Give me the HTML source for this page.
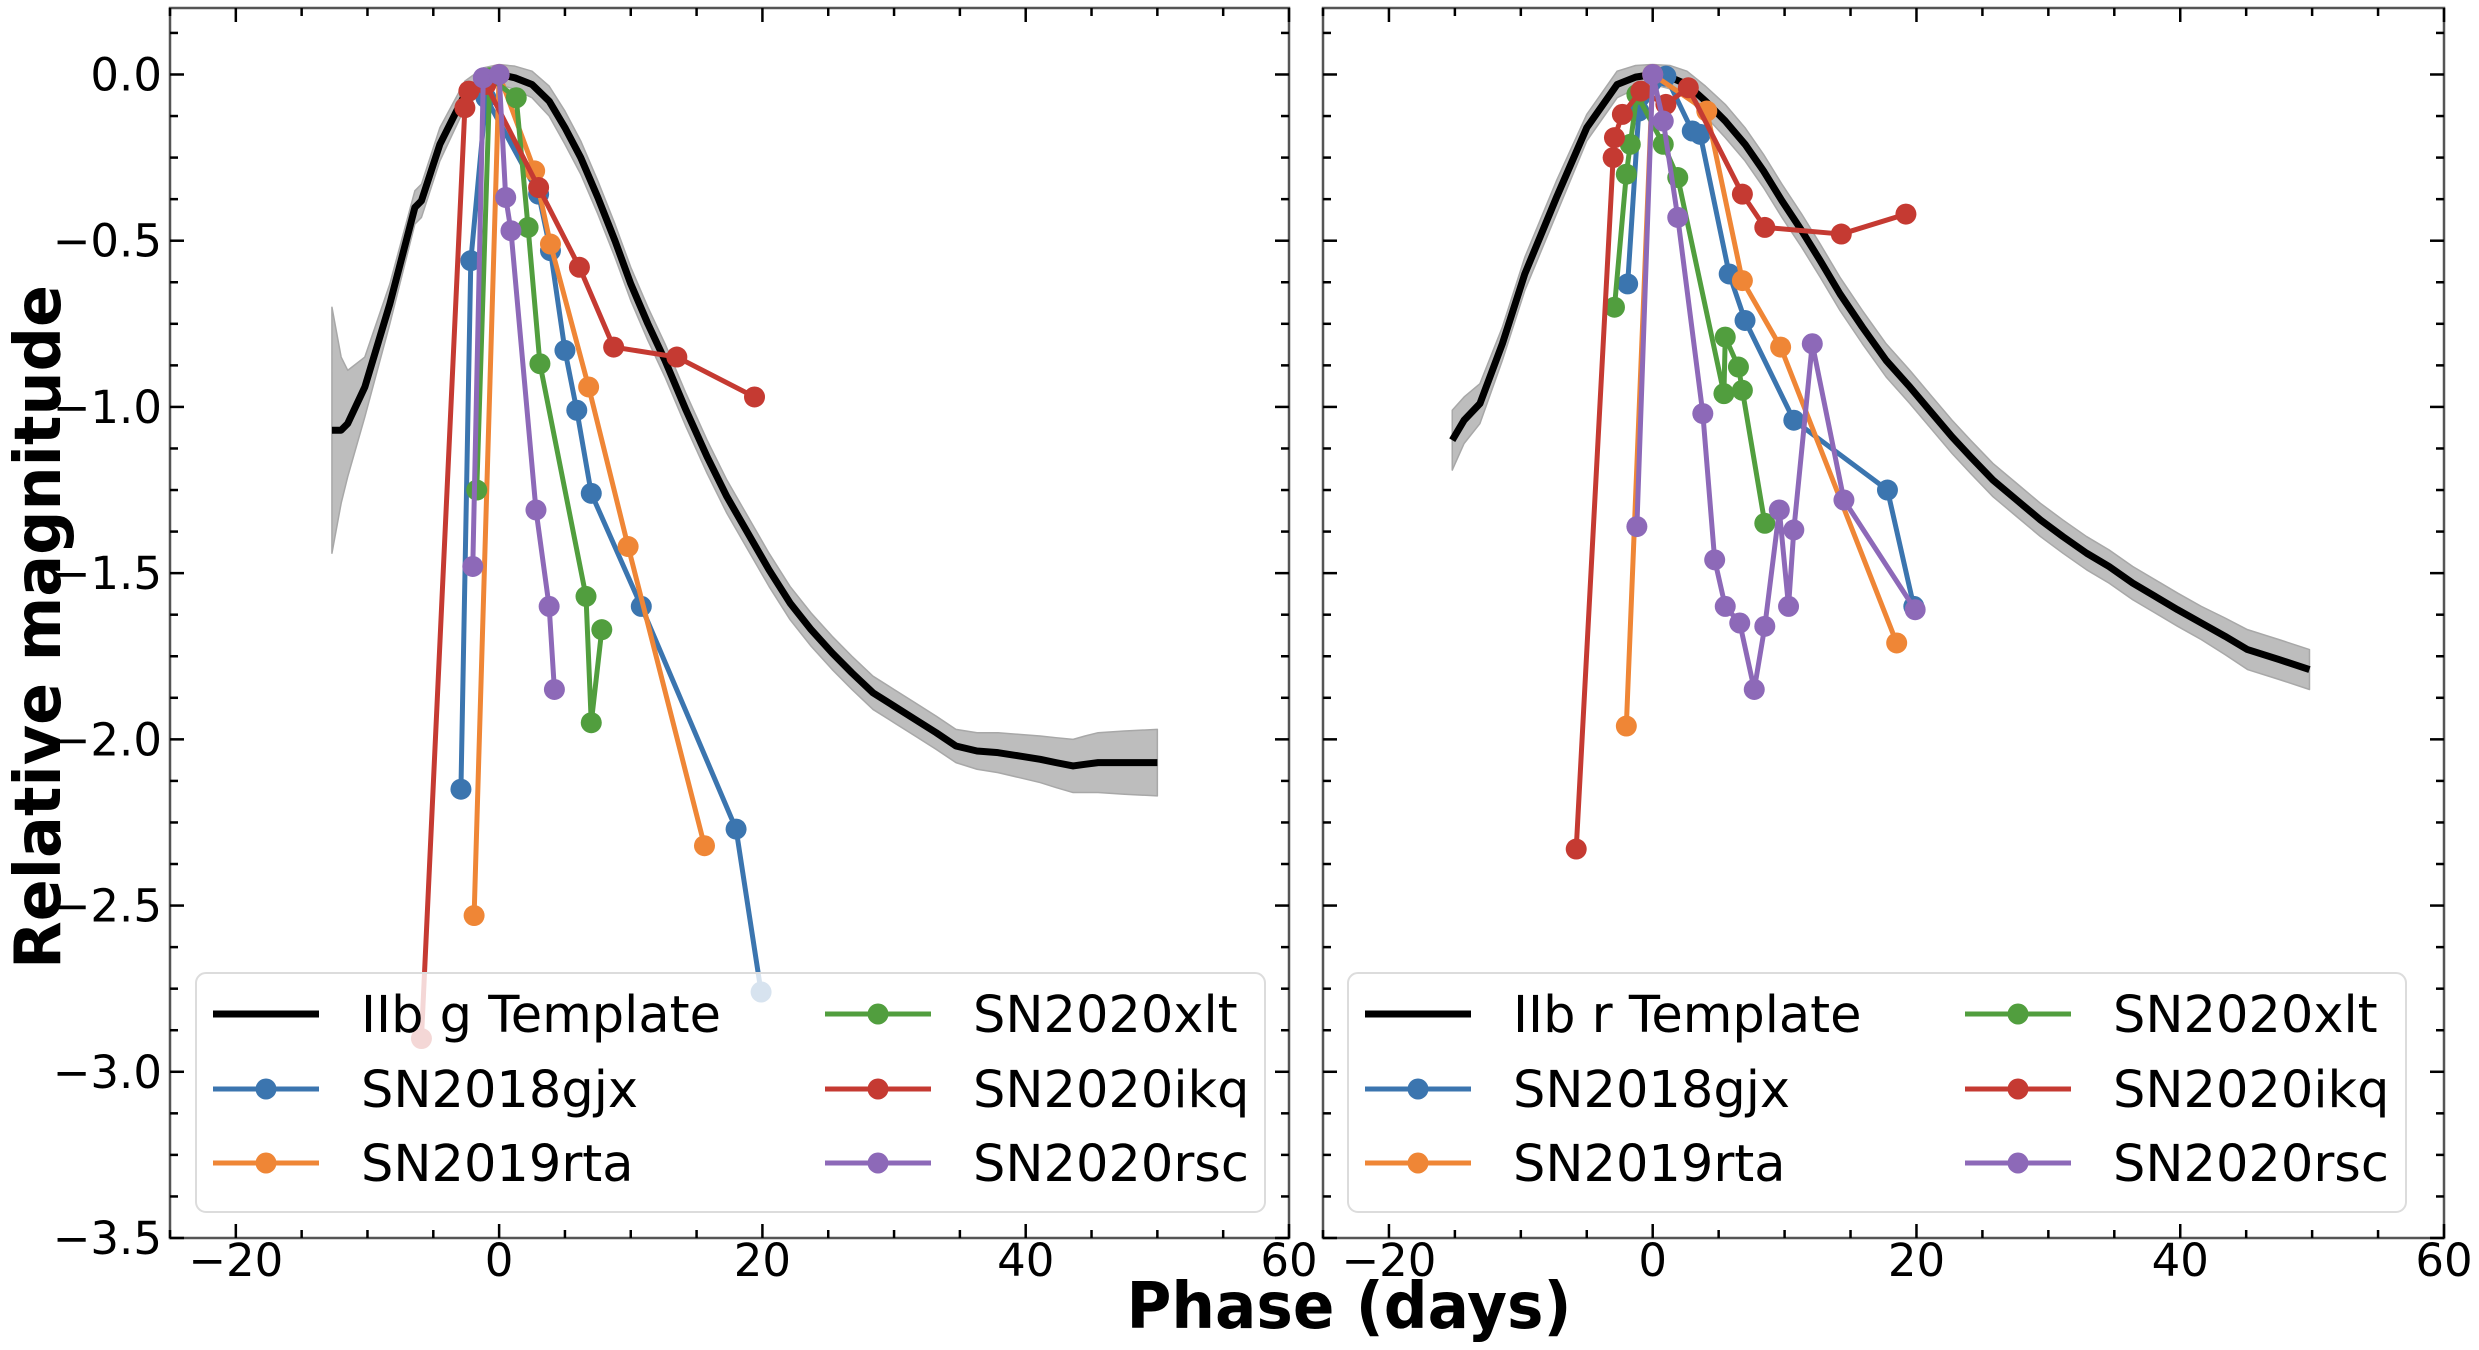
<!DOCTYPE html>
<html><head><meta charset="utf-8"><style>
html,body{margin:0;padding:0;background:#fff;}
svg{display:block;font-family:"DejaVu Sans","Liberation Sans",sans-serif;}
</style></head><body>
<svg id="fig" width="2479" height="1350" viewBox="0 0 2479 1350" xmlns="http://www.w3.org/2000/svg">
<rect width="2479" height="1350" fill="#fff"/>
<text transform="translate(60,627) rotate(-90)" text-anchor="middle" font-weight="bold" font-size="64" textLength="684" lengthAdjust="spacingAndGlyphs">Relative magnitude</text>
<text x="1349" y="1328" text-anchor="middle" font-weight="bold" font-size="64" textLength="445" lengthAdjust="spacingAndGlyphs">Phase (days)</text>
</svg>
<script>
// ---- data: g band ----
const gTplPhase=[-12.7,-12,-11.5,-10.2,-8.3,-6.4,-5.9,-4.5,-2.6,-1.2,0,1.2,2.5,3.8,5,6.2,7.5,8.8,10,11.3,12.6,14.2,15.8,17.3,18.9,20.5,22.1,23.7,25.3,26.8,28.4,30,31.6,33.2,34.7,36.3,37.9,39.5,41.1,42.3,43.6,44.5,45.5,47.5,50];
const gTplMag=[-1.07,-1.07,-1.05,-0.94,-0.69,-0.40,-0.38,-0.21,-0.06,-0.015,0,-0.01,-0.03,-0.08,-0.16,-0.25,-0.37,-0.50,-0.63,-0.75,-0.86,-1.01,-1.15,-1.27,-1.38,-1.49,-1.59,-1.67,-1.74,-1.80,-1.86,-1.90,-1.94,-1.98,-2.02,-2.035,-2.04,-2.05,-2.06,-2.07,-2.08,-2.075,-2.07,-2.07,-2.07];
const gTplErr=[0.37,0.22,0.16,0.09,0.06,0.05,0.05,0.05,0.04,0.035,0.03,0.035,0.04,0.045,0.05,0.05,0.05,0.05,0.05,0.05,0.05,0.05,0.05,0.05,0.05,0.05,0.05,0.05,0.05,0.05,0.05,0.05,0.05,0.05,0.05,0.055,0.06,0.065,0.07,0.075,0.08,0.085,0.09,0.095,0.1];
// ---- data: r band ----
const rTplPhase=[-15.2,-14.3,-13.1,-11.4,-9.7,-7.3,-5.0,-2.7,-1.3,0,1.3,2.6,4,5.5,7,8.4,9.8,11.3,12.7,14.2,15.9,17.7,19.5,21.2,22.7,24.1,25.8,27.6,29.4,31.1,32.9,34.6,36.4,38.1,39.8,41.6,43.4,45.1,47.5,49.8];
const rTplMag=[-1.10,-1.04,-0.99,-0.81,-0.60,-0.37,-0.16,-0.03,-0.008,0,-0.008,-0.03,-0.08,-0.14,-0.21,-0.29,-0.38,-0.47,-0.56,-0.66,-0.76,-0.86,-0.94,-1.02,-1.09,-1.15,-1.22,-1.28,-1.34,-1.39,-1.44,-1.48,-1.53,-1.57,-1.61,-1.65,-1.69,-1.73,-1.76,-1.79];
const rTplErr=[0.09,0.07,0.06,0.05,0.05,0.05,0.04,0.04,0.035,0.03,0.035,0.04,0.045,0.05,0.05,0.05,0.05,0.05,0.05,0.05,0.05,0.05,0.05,0.05,0.05,0.05,0.05,0.05,0.05,0.05,0.05,0.05,0.05,0.05,0.05,0.05,0.055,0.06,0.06,0.06];

const names=["SN2018gjx","SN2019rta","SN2020xlt","SN2020ikq","SN2020rsc"];
const colors=["#3b75af","#ef8636","#519e3e","#c53a32","#8d69b8"];

// g band series
const g18gjxX=[-2.9,-2.15,-1.0,3.0,3.9,5.0,5.9,7.0,10.8,18.0,19.9];
const g18gjxY=[-2.15,-0.56,-0.07,-0.36,-0.53,-0.83,-1.01,-1.26,-1.60,-2.27,-2.76];
const g19rtaX=[-1.9,0,2.7,3.9,6.8,9.8,15.6];
const g19rtaY=[-2.53,0,-0.29,-0.51,-0.94,-1.42,-2.32];
const g20xltX=[-1.7,-0.7,1.3,2.2,3.1,6.6,7.0,7.8];
const g20xltY=[-1.25,-0.01,-0.07,-0.46,-0.87,-1.57,-1.95,-1.67];
const g20ikqX=[-5.9,-2.6,-2.3,-1.0,3.0,6.1,8.7,13.5,19.4];
const g20ikqY=[-2.90,-0.10,-0.05,-0.03,-0.34,-0.58,-0.82,-0.85,-0.97];
const g20rscX=[-2.0,-1.2,0,0.5,0.9,2.8,3.8,4.2];
const g20rscY=[-1.48,-0.01,0,-0.37,-0.47,-1.31,-1.60,-1.85];
// r band series
const r18gjxX=[-1.9,-1.05,1.0,3.0,3.6,5.8,7.0,10.7,17.8,19.8];
const r18gjxY=[-0.63,-0.11,-0.005,-0.17,-0.18,-0.60,-0.74,-1.04,-1.25,-1.60];
const r19rtaX=[-2.0,0,4.1,6.8,9.7,18.5];
const r19rtaY=[-1.96,0,-0.11,-0.62,-0.82,-1.71];
const r20xltX=[-2.9,-2.0,-1.7,-1.2,0.8,1.9,5.4,5.5,6.5,6.8,8.5];
const r20xltY=[-0.70,-0.30,-0.21,-0.06,-0.21,-0.31,-0.96,-0.79,-0.88,-0.95,-1.35];
const r20ikqX=[-5.8,-3.0,-2.9,-2.3,-0.9,1.0,2.7,6.8,8.5,14.3,19.2];
const r20ikqY=[-2.33,-0.25,-0.19,-0.12,-0.05,-0.09,-0.04,-0.36,-0.46,-0.48,-0.42];
const r20rscX=[-1.2,0,0.8,1.9,3.8,4.7,5.5,6.6,7.7,8.5,9.6,10.3,10.7,12.1,14.5,19.9];
const r20rscY=[-1.36,0,-0.14,-0.43,-1.02,-1.46,-1.60,-1.65,-1.85,-1.66,-1.31,-1.60,-1.37,-0.81,-1.28,-1.61];

const xTicks=[-20,0,20,40,60];
const xTickLabels=["\u221220","0","20","40","60"];
const yTicks=[0,-0.5,-1,-1.5,-2,-2.5,-3,-3.5];
const yTickLabels=["0.0","\u22120.5","\u22121.0","\u22121.5","\u22122.0","\u22122.5","\u22123.0","\u22123.5"];

const NS="http://www.w3.org/2000/svg";
const svg=document.getElementById('fig');
function mk(tag,attrs,parent){const e=document.createElementNS(NS,tag);for(const k in attrs)e.setAttribute(k,attrs[k]);(parent||svg).appendChild(e);return e;}

function panel(p){
  const X0=p.left, X1=p.right, Y0=8, Y1=1238;
  const xs=v=>X0+(v-(-25))/(85)*(X1-X0);
  const ys=v=>Y0+(0.2-v)/(3.7)*(Y1-Y0);
  const g=mk('g',{});
  
  
  let up=p.tx.map((x,i)=>xs(x)+','+ys(p.ty[i]+p.te[i]));
  let dn=p.tx.map((x,i)=>xs(x)+','+ys(p.ty[i]-p.te[i])).reverse();
  const band=mk('polygon',{points:up.concat(dn).join(' '),fill:'#bdbdbd',stroke:'#a8a8a8','stroke-width':1.5,'stroke-linejoin':'round'},g);
  
  
  const tl=mk('polyline',{points:p.tx.map((x,i)=>xs(x)+','+ys(p.ty[i])).join(' '),fill:'none',stroke:'#000','stroke-width':7,'stroke-linejoin':'round'},g);
  
  
  p.series.forEach((s,k)=>{
    const sg=mk('g',{},g);
    
    
    mk('polyline',{points:s[0].map((x,i)=>xs(x)+','+ys(s[1][i])).join(' '),fill:'none',stroke:colors[k],'stroke-width':5,'stroke-linejoin':'round'},sg);
    s[0].forEach((x,i)=>{
      const c=mk('circle',{cx:xs(x),cy:ys(s[1][i]),r:10.5,fill:colors[k]},sg);
      
      
    });
  });
  const lg=mk('g',{},g);
  
  
  mk('rect',{x:p.lx,y:973,width:p.lw,height:239,rx:10,fill:'#fff','fill-opacity':0.8,stroke:'#dcdcdc','stroke-width':2},lg);
  const rows=[1014,1089,1163];
  const entries=[[p.tname,'#000',false]].concat(names.map((n,k)=>[n,colors[k],true]));
  entries.forEach((e,i)=>{
    const col=Math.floor(i/3), r=i%3;
    const hx=p.lx+17+col*p.colw, y=rows[r];
    const eg=mk('g',{},lg);
    
    
    mk('line',{x1:hx,y1:y,x2:hx+106,y2:y,stroke:e[1],'stroke-width':e[2]?5:7},eg);
    if(e[2])mk('circle',{cx:hx+53,cy:y,r:10.5,fill:e[1]},eg);
    const t=mk('text',{x:hx+148,y:y+18,'font-size':51},eg);t.textContent=e[0];
  });
  const sp=mk('rect',{x:X0,y:Y0,width:X1-X0,height:Y1-Y0,fill:'none',stroke:'#555','stroke-width':2.5},g);
  
  
  for(let v=-25;v<=60;v+=5){
    const x=xs(v), major=(v%20===0);
    const L=major?14:8;
    mk('line',{x1:x,y1:Y1,x2:x,y2:Y1-L,stroke:'#000','stroke-width':2.5},g);
    mk('line',{x1:x,y1:Y0,x2:x,y2:Y0+L,stroke:'#000','stroke-width':2.5},g);
  }
  xTicks.forEach((v,i)=>{
    const t=mk('text',{x:xs(v),y:1276,'text-anchor':'middle','font-size':45},g);
    t.textContent=xTickLabels[i];
    
    
  });
  for(let v=0.125;v>=-3.5001;v-=0.125){
    const y=ys(v), major=Math.abs(v*2-Math.round(v*2))<1e-6;
    const L=major?14:8;
    mk('line',{x1:X0,y1:y,x2:X0+L,y2:y,stroke:'#000','stroke-width':2.5},g);
    mk('line',{x1:X1,y1:y,x2:X1-L,y2:y,stroke:'#000','stroke-width':2.5},g);
  }
  if(p.ylabels){
    yTicks.forEach((v,i)=>{
      const t=mk('text',{x:162,y:ys(v)+16,'text-anchor':'end','font-size':45},g);
      t.textContent=yTickLabels[i];
      
      
    });
  }
}
panel({id:'g-band',left:170,right:1289,tx:gTplPhase,ty:gTplMag,te:gTplErr,tname:'IIb g Template',ylabels:true,
  lx:196,lw:1069,colw:612,
  series:[[g18gjxX,g18gjxY],[g19rtaX,g19rtaY],[g20xltX,g20xltY],[g20ikqX,g20ikqY],[g20rscX,g20rscY]]});
panel({id:'r-band',left:1323,right:2444,tx:rTplPhase,ty:rTplMag,te:rTplErr,tname:'IIb r Template',ylabels:false,
  lx:1348,lw:1058,colw:600,
  series:[[r18gjxX,r18gjxY],[r19rtaX,r19rtaY],[r20xltX,r20xltY],[r20ikqX,r20ikqY],[r20rscX,r20rscY]]});
</script>
</body></html>
